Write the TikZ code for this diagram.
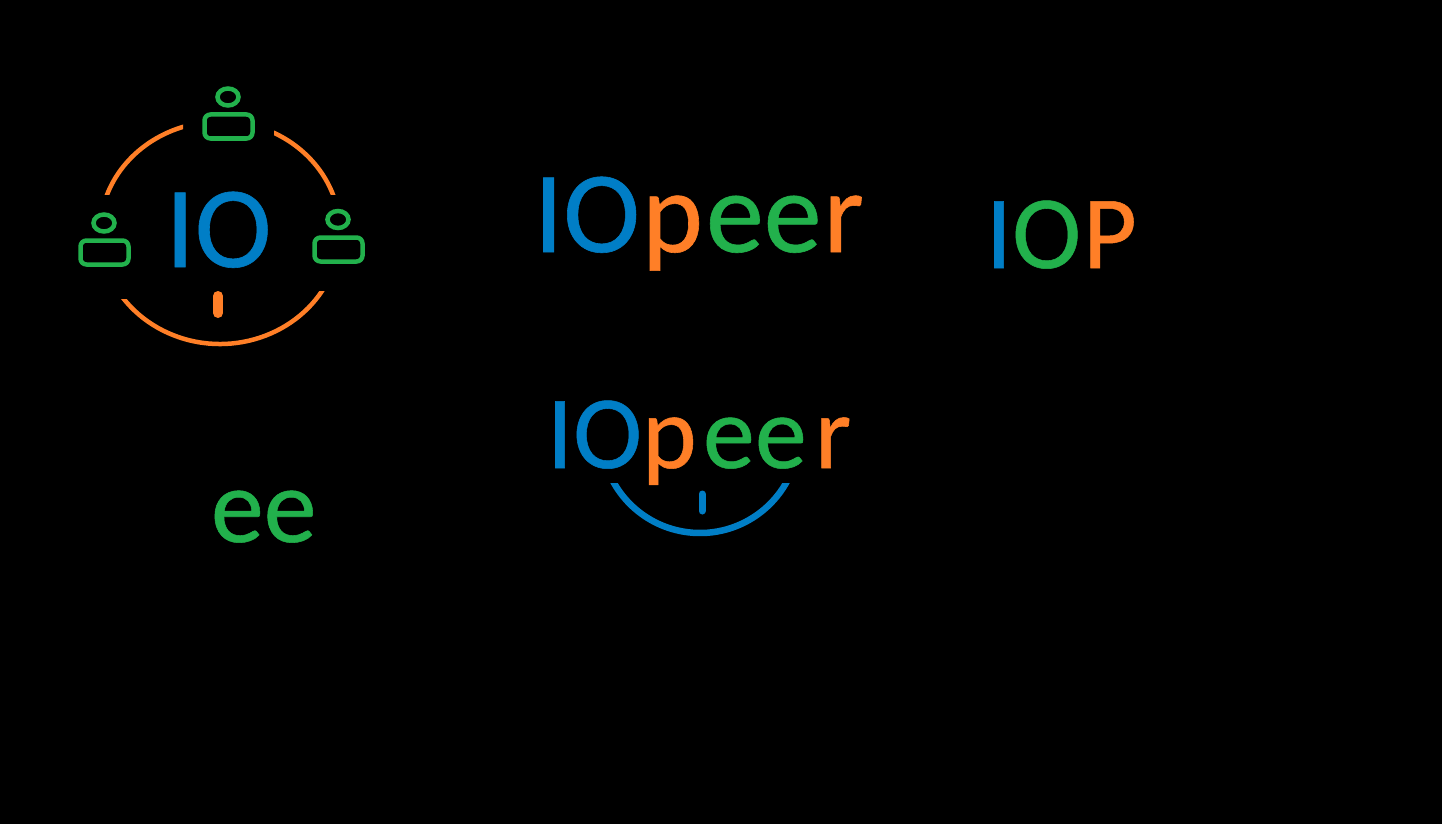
\documentclass[tikz,border=0pt]{standalone}
\usepackage{fontspec}
\setmainfont{Carlito}[RawFeature={embolden=0.5}]
\usetikzlibrary{positioning,shapes.geometric}
\definecolor{ioblue}{RGB}{0,126,198}
\definecolor{iogreen}{RGB}{34,177,76}
\definecolor{ioorange}{RGB}{255,127,39}
\newcommand{\bluetxt}[1]{{\color{ioblue}#1}}
\newcommand{\greentxt}[1]{{\color{iogreen}#1}}
\newcommand{\orangetxt}[1]{{\color{ioorange}#1}}
\begin{document}
\begin{tikzpicture}[x=1pt,y=-1pt,
	word node/.style={anchor=base west,inner sep=0pt,outer sep=0pt},
	ring/.style={draw=ioorange,line width=4.5pt},
	tick/.style={line width=#1,line cap=round},
	head node/.style={draw=iogreen,line width=4.5pt,ellipse,minimum width=21pt,minimum height=17pt,inner sep=0pt},
	body node/.style={draw=iogreen,line width=4.5pt,rounded corners=6pt,minimum width=48pt,minimum height=24pt,inner sep=0pt}]
	
	\fill[black] (0,0) rectangle (1442,824);
	\useasboundingbox (0,0) rectangle (1442,824);
	
	% people round the ring
	\node[head node] (headtop) at (228,97) {};
	\node[body node] (bodytop) at (228.5,126.5) {};
	\node[head node] (headleft) at (104,223) {};
	\node[body node] (bodyleft) at (104.5,252.5) {};
	\node[head node] (headright) at (338,219.5) {};
	\node[body node] (bodyright) at (338.5,249.5) {};
	
	% ring
	\begin{scope}
		\clip (100,110) rectangle (183,194);
		\draw[ring] (220,232) ++(190:120 and 110.5) arc[start angle=190,end angle=260,x radius=120,y radius=110.5];
	\end{scope}
	\begin{scope}
		\clip (274,110) rectangle (345,194);
		\draw[ring] (220,232) ++(290:120 and 111) arc[start angle=290,end angle=350,x radius=120,y radius=111];
	\end{scope}
	\begin{scope}
		\clip (100,299) -- (220,299) -- (220,291) -- (345,291) -- (345,350) -- (100,350) -- cycle;
		\draw[ring] (220,232) ++(20:120 and 112) arc[start angle=20,end angle=155,x radius=120,y radius=112];
	\end{scope}
	\coordinate (ringtop) at (218,296);
	\coordinate (ringbot) at (218,313);
	\draw[ioorange,tick=10pt] (ringtop) -- (ringbot);
	
	% words
	\node[word node,font=\fontsize{116}{116}\selectfont] (io) at (165.5,267) {\bluetxt{IO}};
	\node[word node,font=\fontsize{116}{116}\selectfont] (iopeer) at (534,252) {\bluetxt{IO}\orangetxt{\kern2pt p}\greentxt{\kern3pt ee}\orangetxt{\kern2pt r}};
	\node[word node,font=\fontsize{104}{104}\selectfont] (iop) at (986,268) {\bluetxt{I}\greentxt{O}\orangetxt{\kern2pt P}};
	\node[word node,font=\fontsize{106}{106}\selectfont] (ee) at (211,542) {\greentxt{ee}};
	
	% spaced word
	\node[word node,font=\fontsize{104}{104}\selectfont] (smallio) at (547,468) {\bluetxt{IO}};
	\node[word node,font=\fontsize{104}{104}\selectfont] (smallp) at (642,468) {\orangetxt{p}};
	\node[word node,font=\fontsize{104}{104}\selectfont] (smalle) at (703,468) {\greentxt{e}};
	\node[word node,font=\fontsize{104}{104}\selectfont] (smallee) at (755,468) {\greentxt{e}};
	\node[word node,font=\fontsize{104}{104}\selectfont] (smallr) at (815,468) {\orangetxt{r}};
	
	% smile
	\begin{scope}
		\clip (600,483) rectangle (800,540);
		\draw[ioblue,line width=6.5pt] (700,434) ++(10:99 and 99) arc[start angle=10,end angle=170,radius=99];
	\end{scope}
	\coordinate (smiletop) at (702,494);
	\coordinate (smilebot) at (702,511);
	\draw[ioblue,tick=7pt] (smiletop) -- (smilebot);
\end{tikzpicture}
\end{document}
